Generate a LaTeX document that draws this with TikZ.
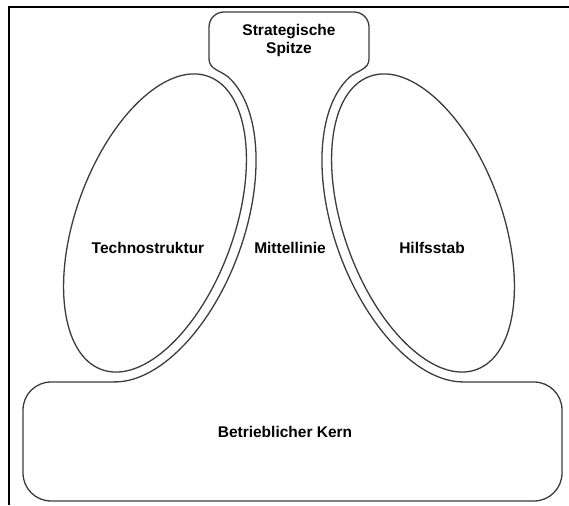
\documentclass[tikz,border=0pt]{standalone}
\usepackage{fontspec}
\setmainfont{Liberation Sans}
\usepackage{tikz}
\usepackage{xcolor}
\usetikzlibrary{positioning, calc}
\definecolor{inkgray}{HTML}{3C3C3C}
\tikzstyle{partline} = [draw=inkgray, line width=1.3pt, line join=round]
\tikzstyle{frameline} = [draw=black, line width=1.6pt]
\tikzstyle{txt} = [font=\bfseries\fontsize{15.5}{18}\selectfont, text=black,
                   align=center, inner sep=0pt]

\begin{document}
\begin{tikzpicture}[x=1pt, y=1pt]
    \useasboundingbox (0,0) rectangle (569,505);
    \draw[frameline] (9,0) -- (9,498) -- (569,498);

    % Technostruktur and Hilfsstab
    \draw[partline, rotate around={70:(155,282)}] (155,282) ellipse [x radius=156, y radius=79];
    \draw[partline, rotate around={110:(423,282)}] (423,282) ellipse [x radius=156, y radius=79];

    % Betrieblicher Kern, Mittellinie and Strategische Spitze as one outline
    \draw[partline] (115.2,123.1)
        -- plot[domain=191:347, samples=60, variable=\t]
           ({155+56.8*cos(\t)-83.6*sin(\t)}, {282+156*cos(\t)+30.4*sin(\t)})
        to[out=136.7, in=-90] (209,446)
        -- (209,478) arc[start angle=180, end angle=90, radius=15]
        -- (354,493) arc[start angle=90, end angle=0, radius=15]
        -- (369,446)
        to[out=-90, in=43.3] (348.8,427.2)
        -- plot[domain=347:191, samples=60, variable=\t]
           ({423-56.8*cos(\t)+83.6*sin(\t)}, {282+156*cos(\t)+30.4*sin(\t)})
        -- (534,123) arc[start angle=90, end angle=0, radius=28]
        -- (562,32) arc[start angle=0, end angle=-90, radius=28]
        -- (51,4) arc[start angle=270, end angle=180, radius=28]
        -- (23,95) arc[start angle=180, end angle=90, radius=28]
        -- cycle;

    \node[txt] (apex) at (289,464) {Strategische\\Spitze};
    \node[txt] (techno) at (148,257) {Technostruktur};
    \node[txt] (middle) at (290,257) {Mittellinie};
    \node[txt] (support) at (432,257) {Hilfsstab};
    \node[txt] (core) at (285,73) {Betrieblicher Kern};
\end{tikzpicture}
\end{document}
